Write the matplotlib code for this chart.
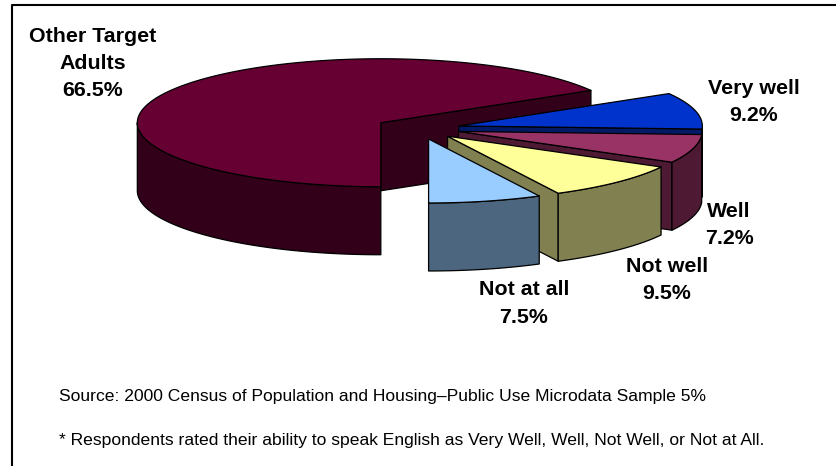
import numpy as np
import matplotlib
matplotlib.use("Agg")
import matplotlib.pyplot as plt
from matplotlib.lines import Line2D
from matplotlib.patches import Polygon

categories = ["Other Target\nAdults", "Not at all", "Not well", "Well", "Very well"]
shares = [66.5, 7.5, 9.5, 7.2, 9.2]
top_colors = ["#660033", "#99ccff", "#ffff99", "#993366", "#0033cc"]
side_colors = ["#33001a", "#4d6680", "#808050", "#4d1933", "#001a66"]
source_note = "Source: 2000 Census of Population and Housing\u2013Public Use Microdata Sample 5%"
rating_note = "* Respondents rated their ability to speak English as Very Well, Well, Not Well, or Not at All."

W, H = 836, 466
fig = plt.figure(figsize=(W / 100, H / 100), dpi=100)
ax = fig.add_axes([0, 0, 1, 1])
ax.set_xlim(0, W)
ax.set_ylim(H, 0)
ax.axis("off")
plt.rcParams["font.family"] = ["Liberation Sans", "DejaVu Sans"]

# Pie projection: squashed ellipse with an extruded rim
CX, CY = 419, 128.5
RX, RY = 243.5, 64
DEPTH = 68
START = 270 - 360 * shares[0] / sum(shares)
EXPLODE = {0: 44}
EXPLODE_DEFAULT = 41

def project(angle, radius, ox, oy, drop=0.0):
    a = np.radians(angle)
    return np.column_stack([ox + radius * RX * np.cos(a), oy - radius * RY * np.sin(a) + drop])

def draw_slice(a0, a1, top, side, off):
    mid = np.radians((a0 + a1) / 2)
    ox = CX + off * np.cos(mid)
    oy = CY - off * RY / RX * np.sin(mid)
    apex = np.array([[ox, oy]])
    style = dict(edgecolor="black", linewidth=0.9, joinstyle="round")

    # radial cut faces that turn toward the viewer
    for edge, normal in ((a0, a0 - 90), (a1, a1 + 90)):
        if np.sin(np.radians(normal)) < -1e-6:
            rim = project(np.array([edge]), 1, ox, oy)
            quad = np.vstack([apex, rim, rim + [0, DEPTH], apex + [0, DEPTH]])
            ax.add_patch(Polygon(quad, closed=True, facecolor=side, **style))

    # outer rim, only over the lower half of the ellipse
    for lo, hi in ((a0, a1), (a0 - 360, a1 - 360), (a0 + 360, a1 + 360)):
        lo_v, hi_v = max(lo, 180), min(hi, 360)
        if hi_v > lo_v:
            t = np.linspace(lo_v, hi_v, 80)
            upper = project(t, 1, ox, oy)
            lower = project(t[::-1], 1, ox, oy, DEPTH)
            ax.add_patch(Polygon(np.vstack([upper, lower]), closed=True, facecolor=side, **style))

    # top surface
    t = np.linspace(a0, a1, 240)
    ax.add_patch(Polygon(np.vstack([apex, project(t, 1, ox, oy)]), closed=True, facecolor=top, **style))

# Angular spans: the large slice ends at the front, the others continue counter-clockwise
spans = []
angle = START
for s in shares:
    spans.append((angle, angle + 360 * s / sum(shares)))
    angle += 360 * s / sum(shares)
# the main block first, then back to front on the right-hand side
for i in (0, 4, 3, 2, 1):
    a0, a1 = spans[i]
    draw_slice(a0, a1, top_colors[i], side_colors[i], EXPLODE.get(i, EXPLODE_DEFAULT))

# Frame: only the top and left rules fall inside the canvas
ax.add_line(Line2D([12, 12, W], [H, 4.5, 4.5], color="black", linewidth=1.5))

label_positions = [(93, 63.5), (524, 303.5), (667, 280), (729, 225), (754, 102)]
for name, share, (x, y) in zip(categories, shares, label_positions):
    ax.text(x, y, f"{name}\n{share:.1f}%", ha="center", va="center", fontsize=15.4,
            fontweight="bold", linespacing=1.54, color="black")

ax.text(59, 401, source_note, fontsize=12.6, va="baseline", color="black")
ax.text(59, 444.5, rating_note, fontsize=12.6, va="baseline", color="black")

fig.savefig("out.png", dpi=100)
